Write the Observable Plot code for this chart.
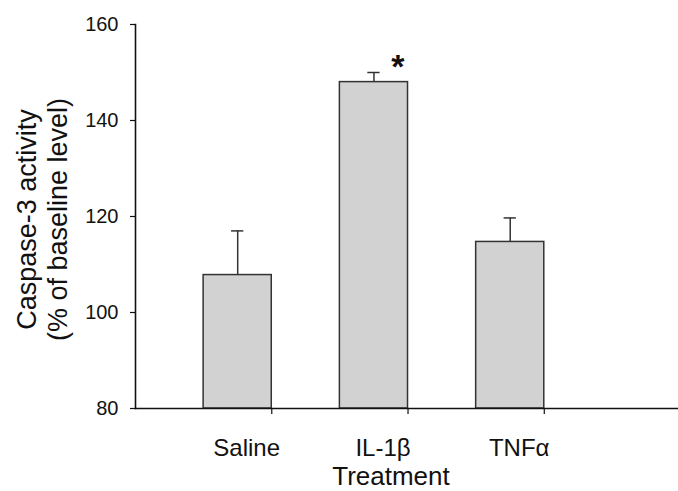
<!DOCTYPE html>
<html><head><meta charset="utf-8">
<script src="https://cdn.jsdelivr.net/npm/d3@7"></script>
<script src="https://cdn.jsdelivr.net/npm/@observablehq/plot@0.6"></script>
<style>body{margin:0;background:#fff}</style>
</head><body><div id="chart"></div>
<script>
const categories = ["Saline", "IL-1β", "TNFα"];
const means = [107.8, 148.0, 114.7];
const errors = [9.2, 2.0, 5.0];
const significance = ["", "*", ""];
const yTicks = [80, 100, 120, 140, 160];
const yTitle = "Caspase-3 activity\n(% of baseline level)";
const xTitle = "Treatment";

const yBase = yTicks[0];
const half = 0.25;
const data = categories.map((c, i) => ({i, c, mean: means[i], top: means[i] + errors[i], sig: significance[i]}));
const font = "Liberation Sans, Arial, Helvetica, sans-serif";

const plot = Plot.plot({
  width: 678, height: 491,
  marginLeft: 135, marginRight: 0, marginTop: 24, marginBottom: 83,
  x: {type: "linear", domain: [-0.75, 3.235]},
  y: {domain: [yTicks[0], yTicks[yTicks.length - 1]]},
  style: {fontFamily: font, background: "white", color: "#111"},
  marks: [
    Plot.rect(data, {x1: d => d.i - half, x2: d => d.i + half, y1: () => yBase, y2: "mean", fill: "#d2d2d2", stroke: "#333", strokeWidth: 1.5}),
    Plot.ruleX(data, {x: "i", y1: "mean", y2: "top", stroke: "#333", strokeWidth: 1.5}),
    Plot.ruleY(data, {y: "top", x1: d => d.i - 0.045, x2: d => d.i + 0.045, stroke: "#333", strokeWidth: 1.5}),
    Plot.axisY({ticks: yTicks, tickSize: 5, tickPadding: 12, fontSize: 20, label: null, strokeWidth: 1.2}),
    Plot.axisX({ticks: data.map(d => d.i + half), tickSize: 6, tickFormat: () => "", label: null, strokeWidth: 1.2}),
    Plot.axisX({ticks: data.map(d => d.i), tickSize: 0, tickPadding: 30, tickFormat: i => categories[i], fontSize: 24, dx: 9, label: null}),
    Plot.frame({anchor: "left", stroke: "#111", strokeWidth: 1.6}),
    Plot.frame({anchor: "bottom", stroke: "#111", strokeWidth: 1.6}),
    Plot.text([yTitle], {frameAnchor: "left", textAnchor: "middle", lineAnchor: "middle", rotate: -90, dx: -94, dy: 3, fontSize: 27, lineHeight: 1.15, fill: "#111"}),
    Plot.text([xTitle], {frameAnchor: "bottom", textAnchor: "middle", dx: -16, dy: 76, lineAnchor: "bottom", fontSize: 26, fill: "#111"}),
    Plot.text(data, {x: "i", y: "top", text: "sig", dx: 24, dy: 5, lineAnchor: "bottom", fontSize: 34, fontWeight: "bold", fill: "#111"})
  ]
});
document.getElementById("chart").append(plot);
</script>
</body></html>
